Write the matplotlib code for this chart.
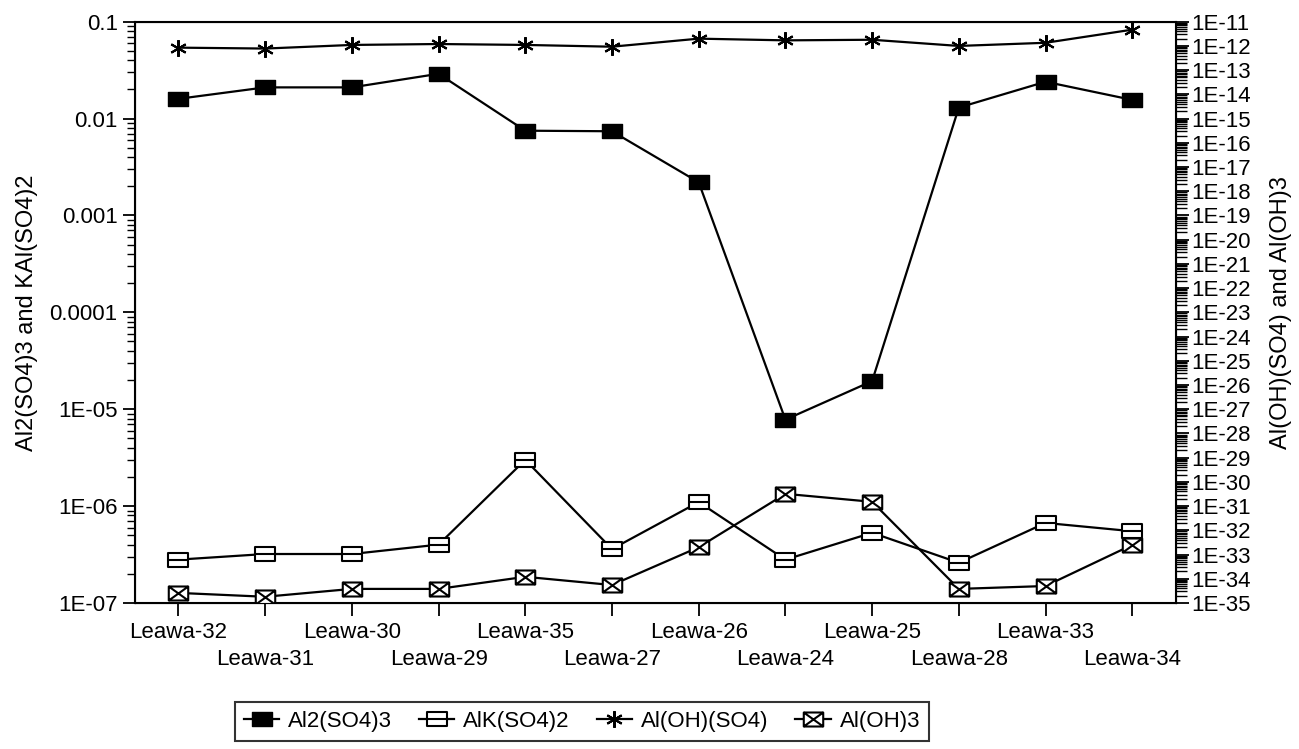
import numpy as np
import matplotlib
matplotlib.use("Agg")
import matplotlib.pyplot as plt
from matplotlib.path import Path
from matplotlib.ticker import FixedLocator, FuncFormatter, LogLocator, NullFormatter

plt.rcParams["font.family"] = ["Liberation Sans", "DejaVu Sans"]

samples = ["Leawa-32", "Leawa-31", "Leawa-30", "Leawa-29", "Leawa-35", "Leawa-27",
           "Leawa-26", "Leawa-24", "Leawa-25", "Leawa-28", "Leawa-33", "Leawa-34"]

# left axis
al2_so4_3 = [0.016, 0.021, 0.021, 0.029, 0.0075, 0.0074,
             0.0022, 7.8e-6, 1.95e-5, 0.013, 0.024, 0.0156]
alk_so4_2 = [2.8e-7, 3.2e-7, 3.2e-7, 4.0e-7, 3.0e-6, 3.6e-7,
             1.1e-6, 2.8e-7, 5.3e-7, 2.6e-7, 6.7e-7, 5.5e-7]

# right axis
aloh_so4 = [8.5e-13, 7.8e-13, 1.1e-12, 1.2e-12, 1.1e-12, 9.3e-13,
            2.0e-12, 1.7e-12, 1.8e-12, 1.0e-12, 1.35e-12, 4.7e-12]
al_oh_3 = [2.6e-35, 1.8e-35, 3.8e-35, 3.8e-35, 1.2e-34, 5.5e-35,
           2.0e-33, 3.2e-31, 1.5e-31, 3.8e-35, 5.0e-35, 2.5e-33]

left_ticks = [1e-7, 1e-6, 1e-5, 1e-4, 1e-3, 1e-2, 1e-1]
left_tick_labels = ["1E-07", "1E-06", "1E-05", "0.0001", "0.001", "0.01", "0.1"]
right_exponents = list(range(-35, -10))


def box_marker(inner):
    """Rectangular marker outline with extra strokes inside."""
    w, h = 1.0, 0.72
    verts = [(-w / 2, -h / 2), (w / 2, -h / 2), (w / 2, h / 2), (-w / 2, h / 2), (0, 0)]
    codes = [Path.MOVETO, Path.LINETO, Path.LINETO, Path.LINETO, Path.CLOSEPOLY]
    if inner == "bar":
        verts += [(-w / 2, 0), (w / 2, 0)]
        codes += [Path.MOVETO, Path.LINETO]
    elif inner == "cross":
        verts += [(-w / 2, -h / 2), (w / 2, h / 2), (-w / 2, h / 2), (w / 2, -h / 2)]
        codes += [Path.MOVETO, Path.LINETO, Path.MOVETO, Path.LINETO]
    return Path(verts, codes)


filled_box = box_marker(None)
bar_box = box_marker("bar")
cross_box = box_marker("cross")

fig = plt.figure(figsize=(12.99, 7.49), dpi=100)
ax = fig.add_axes([0.104, 0.195, 0.801, 0.776])
ax2 = ax.twinx()

x = np.arange(len(samples))

l1, = ax.plot(x, al2_so4_3, color="black", lw=1.6, marker=filled_box, ms=14,
              mfc="black", mec="black", label="Al2(SO4)3")
l2, = ax.plot(x, alk_so4_2, color="black", lw=1.6, marker=bar_box, ms=14,
              mfc="white", mec="black", mew=1.5, label="AlK(SO4)2")
l3, = ax2.plot(x, aloh_so4, color="black", lw=1.6, marker=(6, 2, 0), ms=12,
               mec="black", mew=1.5, label="Al(OH)(SO4)")
l4, = ax2.plot(x, al_oh_3, color="black", lw=1.6, marker=cross_box, ms=14,
               mfc="white", mec="black", mew=1.5, label="Al(OH)3")

ax.set_yscale("log")
ax.set_ylim(1e-7, 0.1)
ax.yaxis.set_major_locator(FixedLocator(left_ticks))
ax.set_yticklabels(left_tick_labels)
ax.yaxis.set_minor_locator(LogLocator(base=10, subs=np.arange(2, 10), numticks=50))
ax.yaxis.set_minor_formatter(NullFormatter())
ax.tick_params(axis="y", which="major", direction="out", length=9, width=1.3, labelsize=16)
ax.tick_params(axis="y", which="minor", direction="out", length=6, width=1.0)

ax2.set_yscale("log")
ax2.set_ylim(1e-35, 1e-11)
ax2.yaxis.set_major_locator(FixedLocator([10.0 ** e for e in right_exponents]))
ax2.yaxis.set_major_formatter(FuncFormatter(lambda v, p: "1E%d" % round(np.log10(v))))
ax2.yaxis.set_minor_locator(LogLocator(base=10, subs=np.arange(2, 10), numticks=200))
ax2.yaxis.set_minor_formatter(NullFormatter())
ax2.tick_params(axis="y", which="major", direction="out", length=9, width=1.3,
                labelsize=16, pad=2)
ax2.tick_params(axis="y", which="minor", direction="out", length=8, width=1.0)

ax.set_xlim(-0.5, len(samples) - 0.5)
ax.set_xticks(x)
ax.set_xticklabels(samples, fontsize=16)
ax.tick_params(axis="x", direction="out", length=9, width=1.3, pad=5)
# stagger the sample names on two rows
for tick in ax.xaxis.get_major_ticks()[1::2]:
    tick.set_pad(24)

for spine in ax.spines.values():
    spine.set_linewidth(1.5)

ax.set_ylabel("Al2(SO4)3 and KAl(SO4)2", fontsize=17)
ax.yaxis.set_label_coords(-0.093, 0.5)
ax2.set_ylabel("Al(OH)(SO4) and Al(OH)3", fontsize=17, rotation=90)
ax2.yaxis.set_label_coords(1.091, 0.5)

leg = fig.legend(handles=[l1, l2, l3, l4], loc="center", ncol=4,
                 bbox_to_anchor=(0.448, 0.037), fontsize=16, frameon=True,
                 fancybox=False, edgecolor="black", handlelength=1.6,
                 handletextpad=0.4, columnspacing=1.2, borderpad=0.4)
leg.get_frame().set_linewidth(1.5)

fig.savefig("out.png", dpi=100)
